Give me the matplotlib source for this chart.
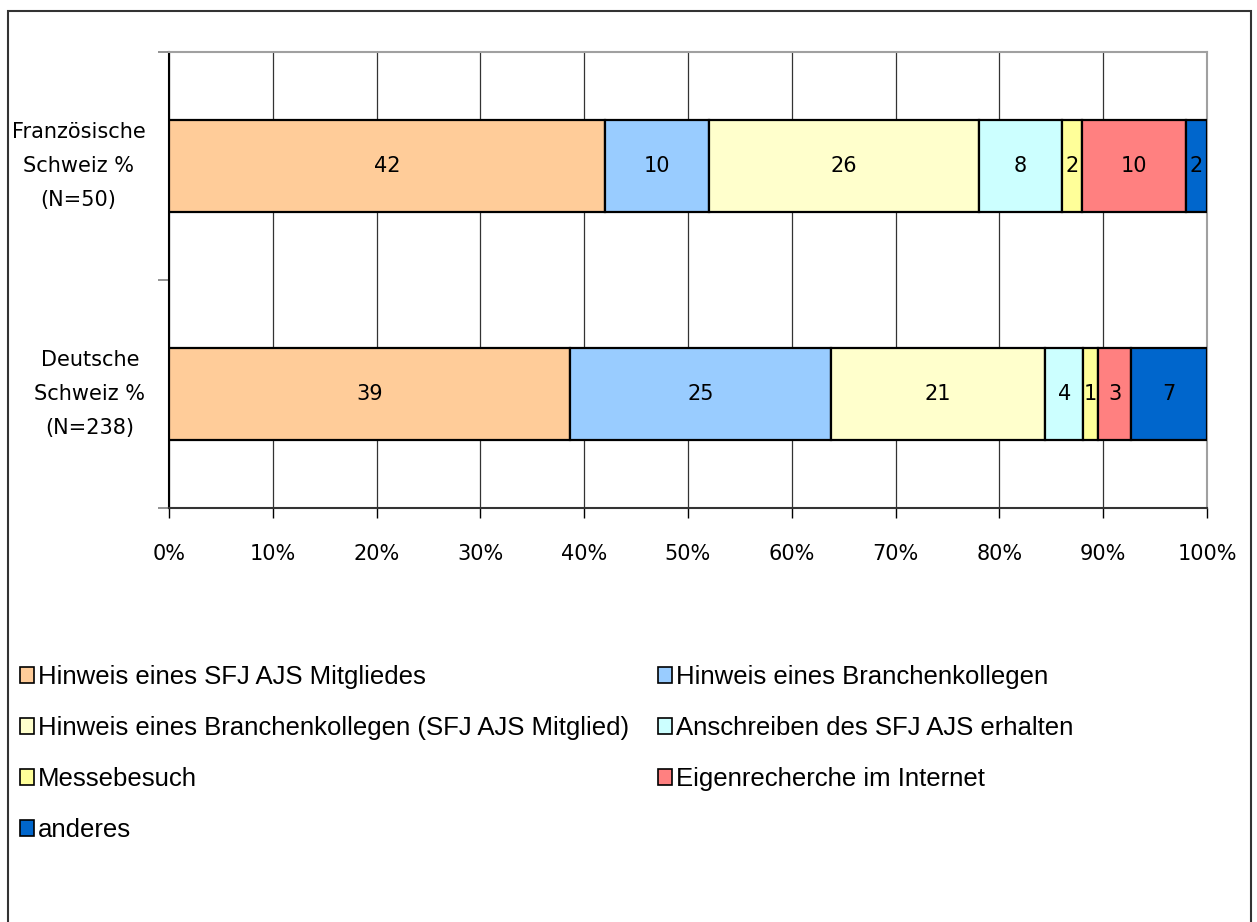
import matplotlib
matplotlib.use("Agg")
import matplotlib.pyplot as plt
from matplotlib.patches import Rectangle, Patch
from matplotlib.ticker import FixedLocator, PercentFormatter

# ---- data ----
groups = ["Deutsche\nSchweiz %\n(N=238)", "Französische\nSchweiz %\n(N=50)"]
series_names = [
    "Hinweis eines SFJ AJS Mitgliedes",
    "Hinweis eines Branchenkollegen",
    "Hinweis eines Branchenkollegen (SFJ AJS Mitglied)",
    "Anschreiben des SFJ AJS erhalten",
    "Messebesuch",
    "Eigenrecherche im Internet",
    "anderes",
]
deutsche = [38.6, 25.2, 20.6, 3.7, 1.4, 3.2, 7.3]
franzoesische = [42, 10, 26, 8, 2, 10, 2]
deutsche_labels = ["39", "25", "21", "4", "1", "3", "7"]
franz_labels = ["42", "10", "26", "8", "2", "10", "2"]
colors = ["#FFCC99", "#99CCFF", "#FFFFCC", "#CCFFFF", "#FFFF99", "#FF8080", "#0066CC"]

axis_font = ["DejaVu Sans"]
legend_font = ["Liberation Sans", "DejaVu Sans"]

fig = plt.figure(figsize=(12.57, 9.22), dpi=100)
ax = fig.add_axes([169 / 1257, 1 - 508 / 922, 1038 / 1257, 456 / 922])

rows = [(0, deutsche, deutsche_labels), (1, franzoesische, franz_labels)]
for yi, vals, labs in rows:
    total = sum(vals)
    left = 0.0
    for i, (v, lab) in enumerate(zip(vals, labs)):
        w = v / total * 100
        ax.barh(yi, w, left=left, height=0.40, color=colors[i],
                edgecolor="black", linewidth=1.6, zorder=3)
        ax.text(left + w / 2, yi, lab, ha="center", va="center",
                fontsize=15, family=axis_font, zorder=4)
        left += w

ax.set_xlim(0, 100)
ax.set_ylim(-0.5, 1.5)
ax.xaxis.set_major_locator(FixedLocator(range(0, 101, 10)))
ax.xaxis.set_major_formatter(PercentFormatter(decimals=0))
ax.tick_params(axis="x", direction="out", length=7, width=1, pad=19,
               labelsize=15)
for t in ax.get_xticklabels():
    t.set_family(axis_font)
ax.xaxis.grid(True, color="#333333", linewidth=0.9, zorder=0)

ax.yaxis.set_major_locator(FixedLocator([-0.5, 0.5, 1.5]))
ax.yaxis.set_major_formatter(plt.NullFormatter())
ax.yaxis.set_minor_locator(FixedLocator([0, 1]))
ax.set_yticklabels(groups, minor=True)
ax.tick_params(axis="y", which="major", direction="out", length=8,
               width=1.2, color="#808080")
ax.tick_params(axis="y", which="minor", length=0, pad=17, labelsize=15)
for t in ax.get_yticklabels(minor=True):
    t.set_family(axis_font)
    t.set_multialignment("center")
    t.set_linespacing(1.85)
    t.set_verticalalignment("center")

ax.spines["left"].set_color("black")
ax.spines["left"].set_linewidth(1.5)
ax.spines["bottom"].set_color("#333333")
ax.spines["bottom"].set_linewidth(1.5)
ax.spines["top"].set_color("#A0A0A0")
ax.spines["top"].set_linewidth(1.5)
ax.spines["right"].set_color("#A0A0A0")
ax.spines["right"].set_linewidth(1.5)

# legend (row-wise order across 2 columns)
handles = [Patch(facecolor=c, edgecolor="black", linewidth=1.2) for c in colors]
order = [0, 2, 4, 6, 1, 3, 5]
leg = fig.legend([handles[i] for i in order], [series_names[i] for i in order],
                 ncol=2, loc="upper left",
                 bbox_to_anchor=(10 / 1257, 1 - 655 / 922),
                 frameon=False, prop={"family": legend_font, "size": 18.5},
                 handlelength=0.55, handleheight=0.55, handletextpad=0.15,
                 columnspacing=1.1, labelspacing=1.05, borderaxespad=0)

# outer chart border
fig.patches.append(Rectangle((8 / 1257, -0.05), 1243 / 1257, 1.05 - 11 / 922,
                             transform=fig.transFigure, fill=False,
                             edgecolor="#333333", linewidth=1.5))

fig.savefig("out.png", dpi=100)
